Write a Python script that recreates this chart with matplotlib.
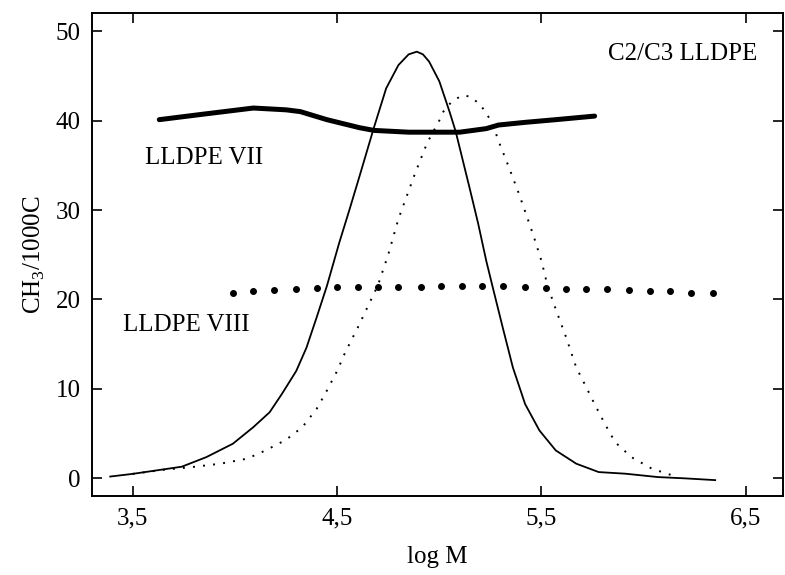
import matplotlib
matplotlib.use("Agg")
import matplotlib.pyplot as plt

# MWD curve of LLDPE VII (solid thin)
mwd7_x = [3.39, 3.50, 3.62, 3.74, 3.86, 3.99, 4.09, 4.17, 4.23, 4.30, 4.35, 4.40, 4.45,
          4.51, 4.56, 4.61, 4.68, 4.74, 4.80, 4.85, 4.89, 4.92, 4.95, 5.00, 5.05, 5.08,
          5.15, 5.19, 5.23, 5.26, 5.31, 5.36, 5.42, 5.49, 5.57, 5.67, 5.78, 5.91, 6.07,
          6.20, 6.35]
mwd7_y = [0.2, 0.5, 0.9, 1.3, 2.37, 3.87, 5.72, 7.39, 9.44, 12.0, 14.6, 18.0, 21.5,
          26.3, 30.0, 33.8, 39.2, 43.6, 46.2, 47.4, 47.7, 47.4, 46.6, 44.4, 41.0, 38.8,
          32.3, 28.5, 24.3, 21.5, 16.9, 12.4, 8.3, 5.35, 3.12, 1.64, 0.70, 0.52, 0.14,
          0.0, -0.2]

# MWD curve of LLDPE VIII (thin dotted)
mwd8_x = [3.50, 3.65, 3.79, 3.93, 4.06, 4.15, 4.25, 4.33, 4.40, 4.45, 4.50, 4.54, 4.60,
          4.65, 4.70, 4.75, 4.80, 4.88, 4.93, 4.95, 5.00, 5.02, 5.06, 5.11, 5.15, 5.20,
          5.23, 5.26, 5.29, 5.33, 5.39, 5.46, 5.50, 5.53, 5.57, 5.62, 5.67, 5.71, 5.76,
          5.81, 5.86, 5.94, 6.04, 6.14]
mwd8_y = [0.5, 0.95, 1.26, 1.64, 2.2, 3.12, 4.31, 5.72, 7.77, 9.81, 12.0, 14.1, 16.8,
          19.2, 21.6, 25.0, 29.0, 34.0, 36.9, 37.9, 40.0, 41.0, 42.1, 42.8, 42.7, 41.8,
          40.8, 39.7, 37.7, 35.4, 31.8, 27.2, 24.3, 21.5, 18.9, 15.8, 12.4, 10.6, 8.3,
          6.1, 4.05, 2.37, 1.08, 0.33]

# CH3/1000C of LLDPE VII (thick solid)
ch3_7_x = [3.63, 3.84, 4.09, 4.25, 4.32, 4.45, 4.61, 4.68, 4.85, 5.10, 5.23, 5.29, 5.42, 5.57, 5.76]
ch3_7_y = [40.1, 40.7, 41.4, 41.2, 41.0, 40.1, 39.2, 38.9, 38.7, 38.7, 39.1, 39.5, 39.8, 40.1, 40.5]

# CH3/1000C of LLDPE VIII (thick dots)
ch3_8_x = [3.99, 4.09, 4.19, 4.30, 4.40, 4.50, 4.60, 4.70, 4.80, 4.91, 5.01, 5.11,
           5.21, 5.31, 5.42, 5.52, 5.62, 5.72, 5.82, 5.93, 6.03, 6.13, 6.23, 6.34]
ch3_8_y = [20.77, 20.89, 21.09, 21.21, 21.29, 21.37, 21.37, 21.37, 21.37, 21.41, 21.49, 21.49,
           21.49, 21.49, 21.41, 21.29, 21.17, 21.17, 21.17, 21.09, 20.97, 20.89, 20.77, 20.69]

xticks = [3.5, 4.5, 5.5, 6.5]
xticklabels = ["3,5", "4,5", "5,5", "6,5"]
yticks = [0, 10, 20, 30, 40, 50]

plt.rcParams['font.family'] = ['Liberation Serif', 'DejaVu Serif']
plt.rcParams['mathtext.fontset'] = 'custom'
plt.rcParams['mathtext.rm'] = 'Liberation Serif'

fig = plt.figure(figsize=(7.85, 5.75), dpi=100)
ax = fig.add_axes([0.117, 0.137, 0.880, 0.840])

ax.plot(mwd7_x, mwd7_y, color='black', lw=1.3)
ax.plot(mwd8_x, mwd8_y, color='black', lw=1.4, linestyle=(0, (1, 4.2)))
ax.plot(ch3_7_x, ch3_7_y, color='black', lw=3.6, solid_capstyle='round')
ax.plot(ch3_8_x, ch3_8_y, color='black', lw=0, marker='o', markersize=4.0)

ax.set_xlim(3.30, 6.68)
ax.set_ylim(-2.0, 52.0)
ax.set_xticks(xticks)
ax.set_xticklabels(xticklabels)
ax.set_yticks(yticks)
ax.tick_params(direction='in', length=7, width=1.2, labelsize=18,
               top=True, right=True, pad=8)
for s in ax.spines.values():
    s.set_linewidth(1.4)

ax.set_xlabel('log M', fontsize=18, labelpad=12)
ax.set_ylabel('CH$_3$/1000C', fontsize=18, labelpad=6)

ax.text(6.19, 47.4, 'C2/C3 LLDPE', fontsize=18, ha='center', va='center')
ax.text(3.56, 35.8, 'LLDPE VII', fontsize=18, ha='left', va='center')
ax.text(3.45, 17.1, 'LLDPE VIII', fontsize=18, ha='left', va='center')

fig.savefig('out.png', dpi=100)
